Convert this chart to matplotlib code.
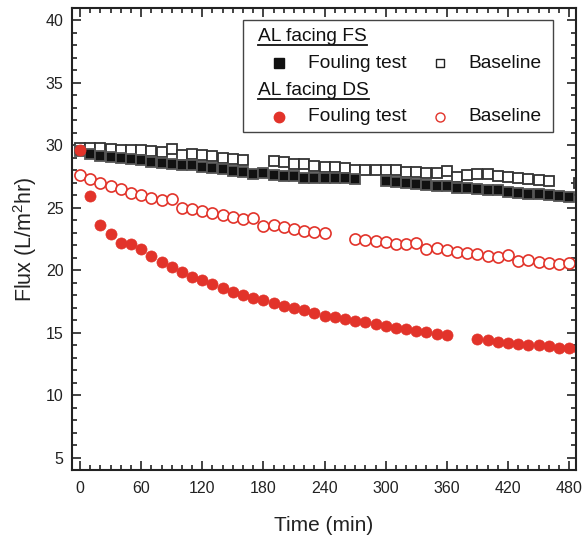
import numpy as np
import matplotlib
matplotlib.use("Agg")
import matplotlib.pyplot as plt
from matplotlib.patches import Rectangle
from matplotlib.ticker import MultipleLocator

plt.rcParams['font.family'] = ['Liberation Sans', 'DejaVu Sans']

nan = np.nan

# Time (min)
time = [0, 10, 20, 30, 40, 50, 60, 70, 80, 90,
        100, 110, 120, 130, 140, 150, 160, 170, 180, 190,
        200, 210, 220, 230, 240, 250, 260, 270, 280, 290,
        300, 310, 320, 330, 340, 350, 360, 370, 380, 390,
        400, 410, 420, 430, 440, 450, 460, 470, 480, 490]

# AL facing FS - fouling test (filled squares)
fs_fouling = [29.5, 29.25, 29.15, 29.07, 28.93, 28.85, 28.83, 28.67, 28.53, 28.45,
              28.4, 28.4, 28.27, 28.19, 28.05, 27.95, 27.82, 27.7, 27.76, 27.6,
              27.54, 27.5, 27.38, 27.38, 27.36, 27.34, 27.34, 27.26, nan, nan,
              27.12, 27.04, 26.96, 26.88, 26.8, 26.74, 26.7, 26.58, 26.56, 26.5,
              26.42, 26.38, 26.26, 26.18, 26.1, 26.06, 26.0, 25.9, 25.82, nan]

# AL facing FS - baseline (open squares)
fs_baseline = [29.73, 29.8, 29.8, 29.7, 29.6, 29.6, 29.57, 29.52, 29.47, 29.68,
               29.2, 29.3, 29.23, 29.12, 28.99, 28.9, 28.8, nan, nan, 28.72,
               28.62, 28.5, 28.46, 28.34, 28.26, 28.22, 28.14, 28.02, 28.0, 27.98,
               28.0, 27.98, 27.86, 27.86, 27.78, 27.74, 27.94, 27.46, 27.6, 27.66,
               27.66, 27.52, 27.42, 27.38, 27.3, 27.22, 27.12, nan, nan, 26.98]

# AL facing DS - fouling test (filled circles)
ds_fouling = [29.6, 25.92, 23.6, 22.86, 22.18, 22.1, 21.65, 21.12, 20.66, 20.22,
              19.84, 19.46, 19.18, 18.88, 18.56, 18.26, 18.0, 17.78, 17.58, 17.34,
              17.14, 16.98, 16.8, 16.54, 16.32, 16.22, 16.08, 15.94, 15.82, 15.68,
              15.52, 15.38, 15.26, 15.12, 15.02, 14.88, 14.78, nan, nan, 14.48,
              14.38, 14.26, 14.18, 14.1, 14.02, 13.98, 13.9, 13.78, 13.74, 13.7]

# AL facing DS - baseline (open circles)
ds_baseline = [27.6, 27.28, 27.0, 26.74, 26.48, 26.2, 25.98, 25.76, 25.58, 25.68,
               24.98, 24.9, 24.72, 24.56, 24.42, 24.26, 24.12, 24.14, 23.56, 23.6,
               23.44, 23.3, 23.16, 23.04, 22.94, nan, nan, 22.5, 22.42, 22.31,
               22.23, 22.1, 22.08, 22.2, 21.65, 21.74, 21.58, 21.46, 21.38, 21.3,
               21.14, 21.06, 21.18, 20.74, 20.78, 20.66, 20.56, 20.46, 20.54, nan]

red = '#E2332A'

fig = plt.figure(figsize=(5.88, 5.45), dpi=100)
ax = fig.add_axes([0.1224, 0.1376, 0.8572, 0.8477])

sq = dict(marker='s', ms=7, mew=1.3, ls='none')
ci = dict(marker='o', ms=8, ls='none')

ax.plot(time, fs_baseline, mfc='white', mec='#333333', **sq)
ax.plot(time, fs_fouling, mfc='#111111', mec='#555555', **sq)
ax.plot(time, ds_baseline, mfc='white', mec=red, mew=1.2, **ci)
ax.plot(time, ds_fouling, mfc=red, mec=red, mew=0.5, **ci)

ax.set_xlim(-7.85, 486.7)
ax.set_ylim(4, 40.96)
ax.xaxis.set_major_locator(MultipleLocator(60))
ax.xaxis.set_minor_locator(MultipleLocator(10))
ax.yaxis.set_major_locator(MultipleLocator(5))
ax.yaxis.set_minor_locator(MultipleLocator(1))
ax.tick_params(which='both', direction='in', top=True, right=True,
               width=1.2, labelsize=11.5, colors='#222222')
ax.tick_params(which='major', length=6.5)
ax.tick_params(which='minor', length=3.5)
ax.tick_params(axis='x', pad=8)
ax.tick_params(axis='y', pad=6)
for s in ax.spines.values():
    s.set_linewidth(1.5)
    s.set_color('#222222')

ax.set_xlabel('Time (min)', fontsize=15, labelpad=14, color='#222222')
ax.set_ylabel(r'Flux (L/m$^\mathregular{2}$hr)', fontsize=15.5, labelpad=5, color='#222222')

# legend drawn by hand (underlined group titles)
ax.add_patch(Rectangle((0.339, 0.7316), 0.615, 0.2424, transform=ax.transAxes,
                       fc='white', ec='#444444', lw=1.0, zorder=5))
tkw = dict(transform=ax.transAxes, fontsize=13.8, va='center', zorder=6, color='#111111')
h1 = ax.text(0.369, 0.938, 'AL facing FS', **tkw)
ax.plot([0.411], [0.880], transform=ax.transAxes, marker='s', ms=7, mfc='#111111',
        mec='#111111', zorder=6)
ax.text(0.468, 0.880, 'Fouling test', **tkw)
ax.plot([0.730], [0.880], transform=ax.transAxes, marker='s', ms=6, mfc='white',
        mec='#222222', mew=1.0, zorder=6)
ax.text(0.786, 0.880, 'Baseline', **tkw)
h2 = ax.text(0.369, 0.8225, 'AL facing DS', **tkw)
ax.plot([0.411], [0.765], transform=ax.transAxes, marker='o', ms=7.5, mfc=red,
        mec=red, zorder=6)
ax.text(0.468, 0.765, 'Fouling test', **tkw)
ax.plot([0.730], [0.765], transform=ax.transAxes, marker='o', ms=6.5, mfc='white',
        mec=red, mew=1.0, zorder=6)
ax.text(0.786, 0.765, 'Baseline', **tkw)

fig.canvas.draw()
inv = ax.transAxes.inverted()
for h, yu in [(h1, 0.920), (h2, 0.803)]:
    bb = h.get_window_extent().transformed(inv)
    ax.plot([bb.x0, bb.x1], [yu, yu], transform=ax.transAxes, color='#111111',
            lw=1.3, zorder=6)

fig.savefig('out.png', dpi=100)
